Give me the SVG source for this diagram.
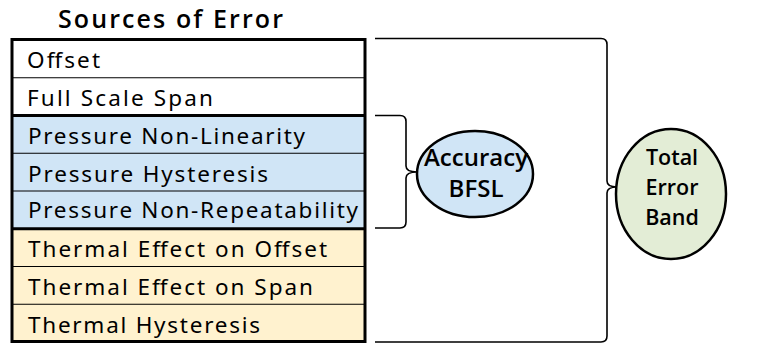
<svg xmlns="http://www.w3.org/2000/svg" width="765" height="344" viewBox="0 0 765 344">
<style>
.row{font-family:"Noto Sans","DejaVu Sans",sans-serif;font-size:22.5px;fill:#000}
.bold{font-family:"Open Sans","Noto Sans",sans-serif;font-weight:600;fill:#000}
.thin{stroke:#000;stroke-width:1.2}
.thick{stroke:#000;stroke-width:3}
.brace{fill:none;stroke:#000;stroke-width:1.6}
.blue{fill:#D0E5F6}
.yellow{fill:#FFF2CF}
.white{fill:#FFFFFF}
</style>
<rect width="765" height="344" fill="#FFFFFF"/>
<g id="title">
<text class="bold" x="58" y="28" font-size="25" textLength="225" lengthAdjust="spacing">Sources of Error</text>
</g>
<g id="table">
<rect class="white" x="12" y="39" width="353" height="76.5"/>
<rect class="blue" x="12" y="115.5" width="353" height="113.25"/>
<rect class="yellow" x="12" y="228.75" width="353" height="113.25"/>
<line class="thin" x1="12" y1="77.75" x2="365" y2="77.75"/>
<line class="thin" x1="12" y1="153.25" x2="365" y2="153.25"/>
<line class="thin" x1="12" y1="191" x2="365" y2="191"/>
<line class="thin" x1="12" y1="266.5" x2="365" y2="266.5"/>
<line class="thin" x1="12" y1="304.25" x2="365" y2="304.25"/>
<line class="thick" x1="12" y1="115.5" x2="365" y2="115.5"/>
<line class="thick" x1="12" y1="228.75" x2="365" y2="228.75"/>
<rect x="12" y="39.5" width="353" height="302" fill="none" stroke="#000" stroke-width="3"/>
<g id="row-offset"><text class="row" x="27" y="68" textLength="73" lengthAdjust="spacing">Offset</text></g>
<g id="row-fullscale"><text class="row" x="27" y="106" textLength="186" lengthAdjust="spacing">Full Scale Span</text></g>
<g id="row-nonlin"><text class="row" x="28" y="143.5" textLength="277" lengthAdjust="spacing">Pressure Non-Linearity</text></g>
<g id="row-physt"><text class="row" x="28" y="181.5" textLength="240" lengthAdjust="spacing">Pressure Hysteresis</text></g>
<g id="row-nonrep"><text class="row" x="28" y="218" textLength="330" lengthAdjust="spacing">Pressure Non-Repeatability</text></g>
<g id="row-teoffset"><text class="row" x="28" y="256.5" textLength="299" lengthAdjust="spacing">Thermal Effect on Offset</text></g>
<g id="row-tespan"><text class="row" x="28" y="294.5" textLength="285" lengthAdjust="spacing">Thermal Effect on Span</text></g>
<g id="row-thyst"><text class="row" x="28" y="332.5" textLength="232" lengthAdjust="spacing">Thermal Hysteresis</text></g>
</g>
<g id="connectors">
<path class="brace" d="M375,38.5 H601 Q607,38.5 607,44.5 V181 Q607,187 617,187 Q607,187 607,193 V336 Q607,342 601,342 H375"/>
<path class="brace" d="M375,115.5 H400 Q406,115.5 406,121.5 V166 Q406,172 417,172 Q406,172 406,178 V222 Q406,228 400,228 H375"/>
</g>
<g id="accuracy">
<ellipse cx="475" cy="174" rx="58" ry="43" fill="#D0E5F6" stroke="#000" stroke-width="2.5"/>
<text class="bold" x="476" y="166" font-size="24" text-anchor="middle" textLength="104" lengthAdjust="spacingAndGlyphs">Accuracy</text>
<text class="bold" x="476" y="197" font-size="24" text-anchor="middle">BFSL</text>
</g>
<g id="total">
<ellipse cx="671" cy="194" rx="55" ry="65" fill="#E3EDD6" stroke="#000" stroke-width="2.5"/>
<text class="bold" x="672" y="165" font-size="21.5" text-anchor="middle">Total</text>
<text class="bold" x="672" y="195" font-size="21.5" text-anchor="middle">Error</text>
<text class="bold" x="672" y="225" font-size="21.5" text-anchor="middle">Band</text>
</g>
</svg>
